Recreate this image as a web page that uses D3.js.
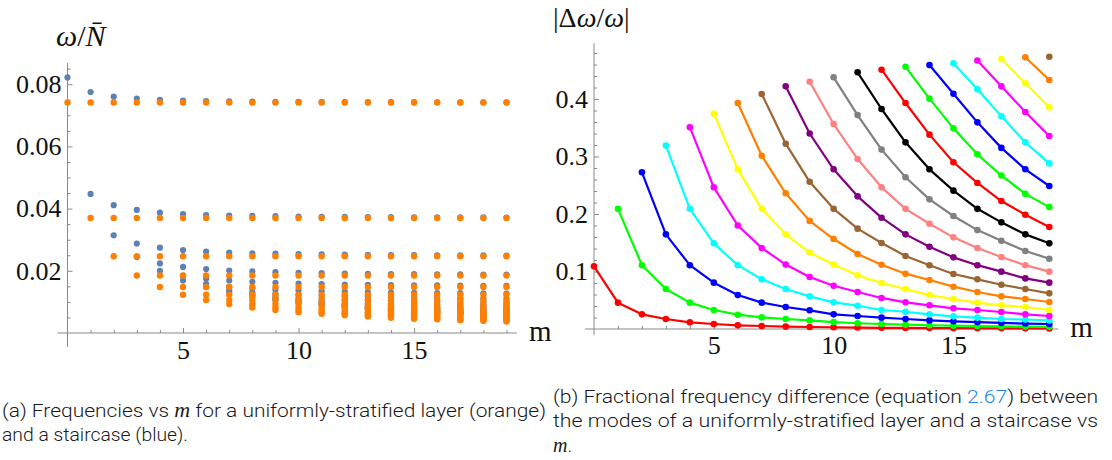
<!DOCTYPE html>
<html>
<head>
<meta charset="utf-8">
<script src="https://cdn.jsdelivr.net/npm/d3@7"></script>
<style>
  body { margin: 0; background: #fff; }
  svg { display: block; }
  .tick text { font-family: "Liberation Serif", "Times New Roman", serif; font-size: 26px; fill: #111; }
  .ax-title { font-family: "Liberation Serif", "Times New Roman", serif; fill: #111; }
  .caption { font-family: Roboto, "Open Sans", sans-serif; font-weight: 300; font-size: 19px; fill: #1a1a1a; }
  .math { font-family: "Liberation Serif", "Times New Roman", serif; font-style: italic; font-weight: 300; }
</style>
</head>
<body>
<svg id="fig" width="1112" height="460"></svg>
<script>
// ---- data ----------------------------------------------------------------
// number of steps m shown on the horizontal axes
const mSteps = [0, 1, 2, 3, 4, 5, 6, 7, 8, 9, 10, 11, 12, 13, 14, 15, 16, 17, 18, 19];

// mode frequencies omega/N of the uniformly-stratified layer, mode n = 1..20
const uniformFreq = [0.0741, 0.0370, 0.0247, 0.0185, 0.0148, 0.0123, 0.0106, 0.0093, 0.0082, 0.0074,
                     0.0067, 0.0062, 0.0057, 0.0053, 0.0049, 0.0046, 0.0044, 0.0041, 0.0039, 0.0037];

// |delta omega / omega| for mode n, listed from m = n-1 up to m = 19
const fracDiff = [
  [0.109, 0.0458, 0.0255, 0.0174, 0.0116, 0.0087, 0.0064, 0.0052, 0.0042, 0.0035, 0.0030, 0.0025, 0.0021, 0.0019, 0.0016, 0.0015, 0.0013, 0.0012, 0.0011, 0.0010],
  [0.209, 0.111, 0.0696, 0.0458, 0.033, 0.0249, 0.0203, 0.0174, 0.015, 0.012, 0.0100, 0.0087, 0.0075, 0.0065, 0.0058, 0.0052, 0.0047, 0.0042, 0.0038],
  [0.2725, 0.1646, 0.111, 0.0806, 0.059, 0.0458, 0.0383, 0.0325, 0.0255, 0.0226, 0.0197, 0.0174, 0.015, 0.0134, 0.012, 0.0105, 0.0095, 0.0087],
  [0.319, 0.209, 0.149, 0.111, 0.0864, 0.0696, 0.0568, 0.0464, 0.0405, 0.033, 0.030, 0.0255, 0.022, 0.0197, 0.0174, 0.0165, 0.0150],
  [0.351, 0.2464, 0.180, 0.141, 0.112, 0.0904, 0.0753, 0.0643, 0.054, 0.0464, 0.0412, 0.036, 0.033, 0.0296, 0.0255, 0.0226],
  [0.3745, 0.2777, 0.209, 0.1646, 0.133, 0.112, 0.0933, 0.080, 0.0696, 0.059, 0.0522, 0.0458, 0.0412, 0.0383, 0.033],
  [0.393, 0.3014, 0.236, 0.188, 0.1565, 0.1304, 0.1118, 0.0962, 0.0852, 0.0736, 0.0643, 0.0568, 0.0522, 0.047],
  [0.4087, 0.3223, 0.256, 0.209, 0.1745, 0.1496, 0.127, 0.111, 0.0957, 0.0864, 0.077, 0.0696, 0.062],
  [0.422, 0.340, 0.2777, 0.2307, 0.1936, 0.1646, 0.143, 0.1246, 0.111, 0.0997, 0.088, 0.0806],
  [0.430, 0.3565, 0.2957, 0.2464, 0.209, 0.183, 0.1594, 0.141, 0.1252, 0.111, 0.0997],
  [0.4377, 0.372, 0.312, 0.264, 0.2255, 0.1965, 0.172, 0.1536, 0.1357, 0.1223],
  [0.4464, 0.3826, 0.3246, 0.2777, 0.2406, 0.209, 0.1855, 0.1646, 0.149],
  [0.451, 0.393, 0.338, 0.290, 0.254, 0.2226, 0.1988, 0.1774],
  [0.456, 0.4006, 0.349, 0.3038, 0.267, 0.235, 0.212],
  [0.459, 0.409, 0.3594, 0.315, 0.2777, 0.2487],
  [0.462, 0.4168, 0.370, 0.3246, 0.288],
  [0.467, 0.422, 0.3774, 0.3357],
  [0.4696, 0.4273, 0.3855],
  [0.4725, 0.433],
  [0.4735]
];

// one colour per mode, cycling through the 12 named colours
const modeColors = ["#ff0000", "#00ff00", "#0000ff", "#00ffff", "#ff00ff", "#ffff00",
                    "#ff8000", "#996633", "#800080", "#ff8080", "#808080", "#000000"];

// tick values
const xMajorTicks = [5, 10, 15];
const yMajorTicksLeft = [0.02, 0.04, 0.06, 0.08];
const yMajorTicksRight = [0.1, 0.2, 0.3, 0.4];

// ---- helpers ---------------------------------------------------------------
const svg = d3.select("#fig");
const axisColor = "#8a8a8a";
const last = mSteps[mSteps.length - 1];

function styleAxis(sel) {
  sel.select(".domain").remove();
  sel.selectAll(".tick line").attr("stroke", axisColor).attr("stroke-width", 1);
}

function drawAxes(x, y, cfg) {
  const g = svg.append("g");
  const x0 = x(0), y0 = y(0);
  // axis lines (pass through the origin, slightly overhanging)
  g.append("line").attr("x1", x(cfg.xExt[0])).attr("x2", x(cfg.xExt[1]))
    .attr("y1", y0).attr("y2", y0).attr("stroke", axisColor);
  g.append("line").attr("x1", x0).attr("x2", x0)
    .attr("y1", y(cfg.yExt[0])).attr("y2", y(cfg.yExt[1])).attr("stroke", axisColor);

  const xMinor = mSteps.filter(m => m > 0 && !xMajorTicks.includes(m));
  g.append("g").attr("transform", `translate(0,${y0})`)
    .call(d3.axisBottom(x).tickValues(xMinor).tickFormat(() => "").tickSizeInner(-3).tickSizeOuter(0))
    .call(styleAxis);
  g.append("g").attr("transform", `translate(0,${y0})`)
    .call(d3.axisBottom(x).tickValues(xMajorTicks).tickFormat(d3.format("d"))
      .tickSizeInner(-5).tickSizeOuter(0).tickPadding(cfg.xPad))
    .call(styleAxis);

  g.append("g").attr("transform", `translate(${x0},0)`)
    .call(d3.axisLeft(y).tickValues(cfg.yMinor).tickFormat(() => "").tickSizeInner(-3).tickSizeOuter(0))
    .call(styleAxis);
  g.append("g").attr("transform", `translate(${x0},0)`)
    .call(d3.axisLeft(y).tickValues(cfg.yMajor).tickFormat(cfg.yFmt)
      .tickSizeInner(-5).tickSizeOuter(0).tickPadding(6))
    .call(styleAxis);

  g.append("text").attr("class", "ax-title")
    .attr("x", x(cfg.xExt[1]) + 12).attr("y", y0 + 8)
    .attr("font-size", 29).text("m");
  return g;
}

// ---- (a) frequencies ------------------------------------------------------
const xA = d3.scaleLinear().domain([0, last]).range([67.5, 506.5]);
const yA = d3.scaleLinear().domain([0, 0.08]).range([333, 84.2]);

drawAxes(xA, yA, {
  xExt: [-0.44, 19.45], yExt: [-0.0045, 0.0868],
  yMajor: yMajorTicksLeft,
  yMinor: d3.range(1, 18).map(i => i * 0.005).filter(v => !yMajorTicksLeft.some(t => Math.abs(t - v) < 1e-9)),
  yFmt: d3.format(".2f"), xPad: 8
});

const staircasePts = [], uniformPts = [];
fracDiff.forEach((row, i) => {
  const start = last - (row.length - 1);
  row.forEach((d, k) => {
    const m = start + k;
    uniformPts.push({ m, v: uniformFreq[i] });
    // staircase frequency differs from the uniform one by the fractional difference
    staircasePts.push({ m, v: uniformFreq[i] * (1 + d) });
  });
});

svg.append("g").selectAll("circle").data(staircasePts).join("circle")
  .attr("cx", d => xA(d.m)).attr("cy", d => yA(d.v)).attr("r", 3.1).attr("fill", "#5e81b5");
svg.append("g").selectAll("circle").data(uniformPts).join("circle")
  .attr("cx", d => xA(d.m)).attr("cy", d => yA(d.v)).attr("r", 3.2).attr("fill", "#ff8000");

// y title  omega / N-bar
const tA = svg.append("text").attr("class", "ax-title").attr("x", 56).attr("y", 46).attr("font-size", 30);
tA.append("tspan").attr("font-style", "italic").text("ω");
tA.append("tspan").text("/");
tA.append("tspan").attr("font-style", "italic").text("N\u0304");

// ---- (b) fractional difference -------------------------------------------
const xB = d3.scaleLinear().domain([0, last]).range([594, 1049.3]);
const yB = d3.scaleLinear().domain([0, 0.4]).range([329, 99]);

drawAxes(xB, yB, {
  xExt: [-0.38, 19.37], yExt: [-0.0104, 0.497],
  yMajor: yMajorTicksRight,
  yMinor: d3.range(1, 25).map(i => i * 0.02).filter(v => !yMajorTicksRight.some(t => Math.abs(t - v) < 1e-9)),
  yFmt: d3.format(".1f"), xPad: 7
});

const line = d3.line().x(d => xB(d.m)).y(d => yB(d.v));
const curves = fracDiff.map((row, i) => {
  const start = last - (row.length - 1);
  return { color: modeColors[i % modeColors.length], pts: row.map((v, k) => ({ m: start + k, v })) };
});
const cg = svg.append("g").selectAll("g").data(curves).join("g");
cg.append("path").attr("d", d => line(d.pts)).attr("fill", "none")
  .attr("stroke", d => d.color).attr("stroke-width", 2.2).attr("stroke-linejoin", "round");
cg.selectAll("circle").data(d => d.pts.map(p => ({ ...p, color: d.color }))).join("circle")
  .attr("cx", d => xB(d.m)).attr("cy", d => yB(d.v)).attr("r", 3.3).attr("fill", d => d.color);

const tB = svg.append("text").attr("class", "ax-title").attr("x", 553).attr("y", 27).attr("font-size", 28);
tB.append("tspan").text("|Δ");
tB.append("tspan").attr("font-style", "italic").text("ω");
tB.append("tspan").text("/");
tB.append("tspan").attr("font-style", "italic").text("ω");
tB.append("tspan").text("|");

// ---- captions ---------------------------------------------------------------
function caption(x, y, parts, width) {
  const t = svg.append("text").attr("class", "caption").attr("x", x).attr("y", y);
  parts.forEach(p => {
    const s = t.append("tspan").text(p.t);
    if (p.math) s.attr("class", "math").attr("font-size", 20);
    if (p.color) s.attr("fill", p.color);
  });
  if (width) t.attr("textLength", width).attr("lengthAdjust", "spacingAndGlyphs");
}
caption(2, 417, [{ t: "(a) Frequencies vs " }, { t: "m", math: true }, { t: " for a uniformly-stratified layer (orange)" }], 544);
caption(2, 441, [{ t: "and a staircase (blue)." }], 186);
caption(553, 403, [{ t: "(b) Fractional frequency difference (equation " }, { t: "2.67", color: "#1e88e5" }, { t: ") between" }], 545);
caption(553, 427, [{ t: "the modes of a uniformly-stratified layer and a staircase vs" }], 545);
caption(553, 452, [{ t: "m", math: true }, { t: "." }]);
</script>
</body>
</html>
